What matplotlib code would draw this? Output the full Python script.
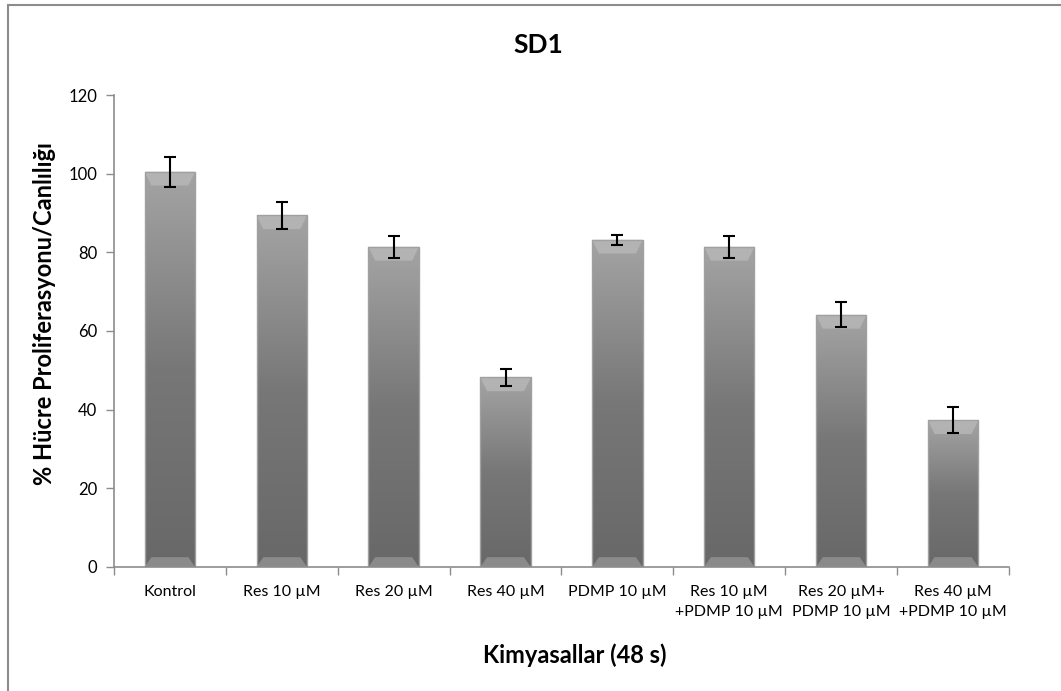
import numpy as np
import matplotlib.pyplot as plt
from matplotlib.patches import Rectangle, Polygon
from matplotlib.colors import LinearSegmentedColormap

kategoriler = ["Kontrol", "Res 10 µM", "Res 20 µM", "Res 40 µM", "PDMP 10 µM",
               "Res 10 µM\n+PDMP 10 µM", "Res 20 µM+\nPDMP 10 µM", "Res 40 µM\n+PDMP 10 µM"]
degerler = [100.5, 89.4, 81.4, 48.2, 83.2, 81.4, 64.1, 37.3]
hatalar = [3.8, 3.4, 2.8, 2.1, 1.3, 2.8, 3.2, 3.3]

plt.rcParams['font.family'] = ['Lato', 'DejaVu Sans']

fig = plt.figure(figsize=(10.61, 6.91), dpi=100)
ax = fig.add_axes([0.1074, 0.1795, 0.8436, 0.683])

# cerceve
fig.patches.append(Rectangle((8/1061, -0.1), 1.2, 1 - 5/691 + 0.1, transform=fig.transFigure,
                             fill=False, edgecolor='#8c8c8c', linewidth=1.5))

x = np.arange(len(kategoriler))
genislik = 0.45
cubuklar = ax.bar(x, degerler, genislik, color='none', edgecolor='#a0a0a0', linewidth=1.0, zorder=2)

renkler = LinearSegmentedColormap.from_list('g', ['#686868', '#777777', '#a4a4a4'])
grad = np.linspace(0, 1, 256).reshape(-1, 1)
for c in cubuklar:
    x0 = c.get_x()
    h = c.get_height()
    im = ax.imshow(grad, cmap=renkler, extent=[x0, x0 + genislik, 0, h],
                   origin='lower', aspect='auto', zorder=1)
    im.set_clip_path(c)
    d = 0.06
    ust = Polygon([(x0, h), (x0 + genislik, h), (x0 + genislik - d, h - 3.5), (x0 + d, h - 3.5)],
                  closed=True, facecolor='#b8b8b8', edgecolor='none', alpha=0.8, zorder=1.5)
    ax.add_patch(ust)
    alt = Polygon([(x0, 0), (x0 + genislik, 0), (x0 + genislik - d, 2.5), (x0 + d, 2.5)],
                  closed=True, facecolor='#8e8e8e', edgecolor='none', alpha=0.9, zorder=1.5)
    ax.add_patch(alt)

ax.errorbar(x, degerler, yerr=hatalar, fmt='none', ecolor='black', elinewidth=1.5,
            capsize=4, capthick=1.5, zorder=3)

ax.set_xlim(-0.5, len(kategoriler) - 0.5)
ax.set_ylim(0, 120)
ax.set_yticks(range(0, 121, 20))
ax.set_xticks(np.arange(-0.5, len(kategoriler), 1))
ax.set_xticklabels([])
ax.set_xticks(x, minor=True)
ax.set_xticklabels(kategoriler, minor=True, fontsize=11.5, linespacing=1.5)
ax.tick_params(axis='x', which='minor', length=0, pad=13)
ax.tick_params(axis='x', which='major', length=6, color='#8c8c8c', width=1)
ax.tick_params(axis='y', length=6, color='#8c8c8c', width=1, labelsize=12, pad=6)

for s in ['top', 'right']:
    ax.spines[s].set_visible(False)
for s in ['left', 'bottom']:
    ax.spines[s].set_color('#8c8c8c')
    ax.spines[s].set_linewidth(1.2)

fig.text(538/1061, 1 - 45/691, "SD1", ha='center', va='center', fontsize=19, fontweight='bold')
fig.text(45/1061, 1 - 314/691, "% Hücre Proliferasyonu/Canlılığı", rotation=90,
         ha='center', va='center', fontsize=17, fontweight='bold')
fig.text(575/1061, 1 - 655/691, "Kimyasallar (48 s)", ha='center', va='center',
         fontsize=17, fontweight='bold')

fig.savefig("out.png", dpi=100)
